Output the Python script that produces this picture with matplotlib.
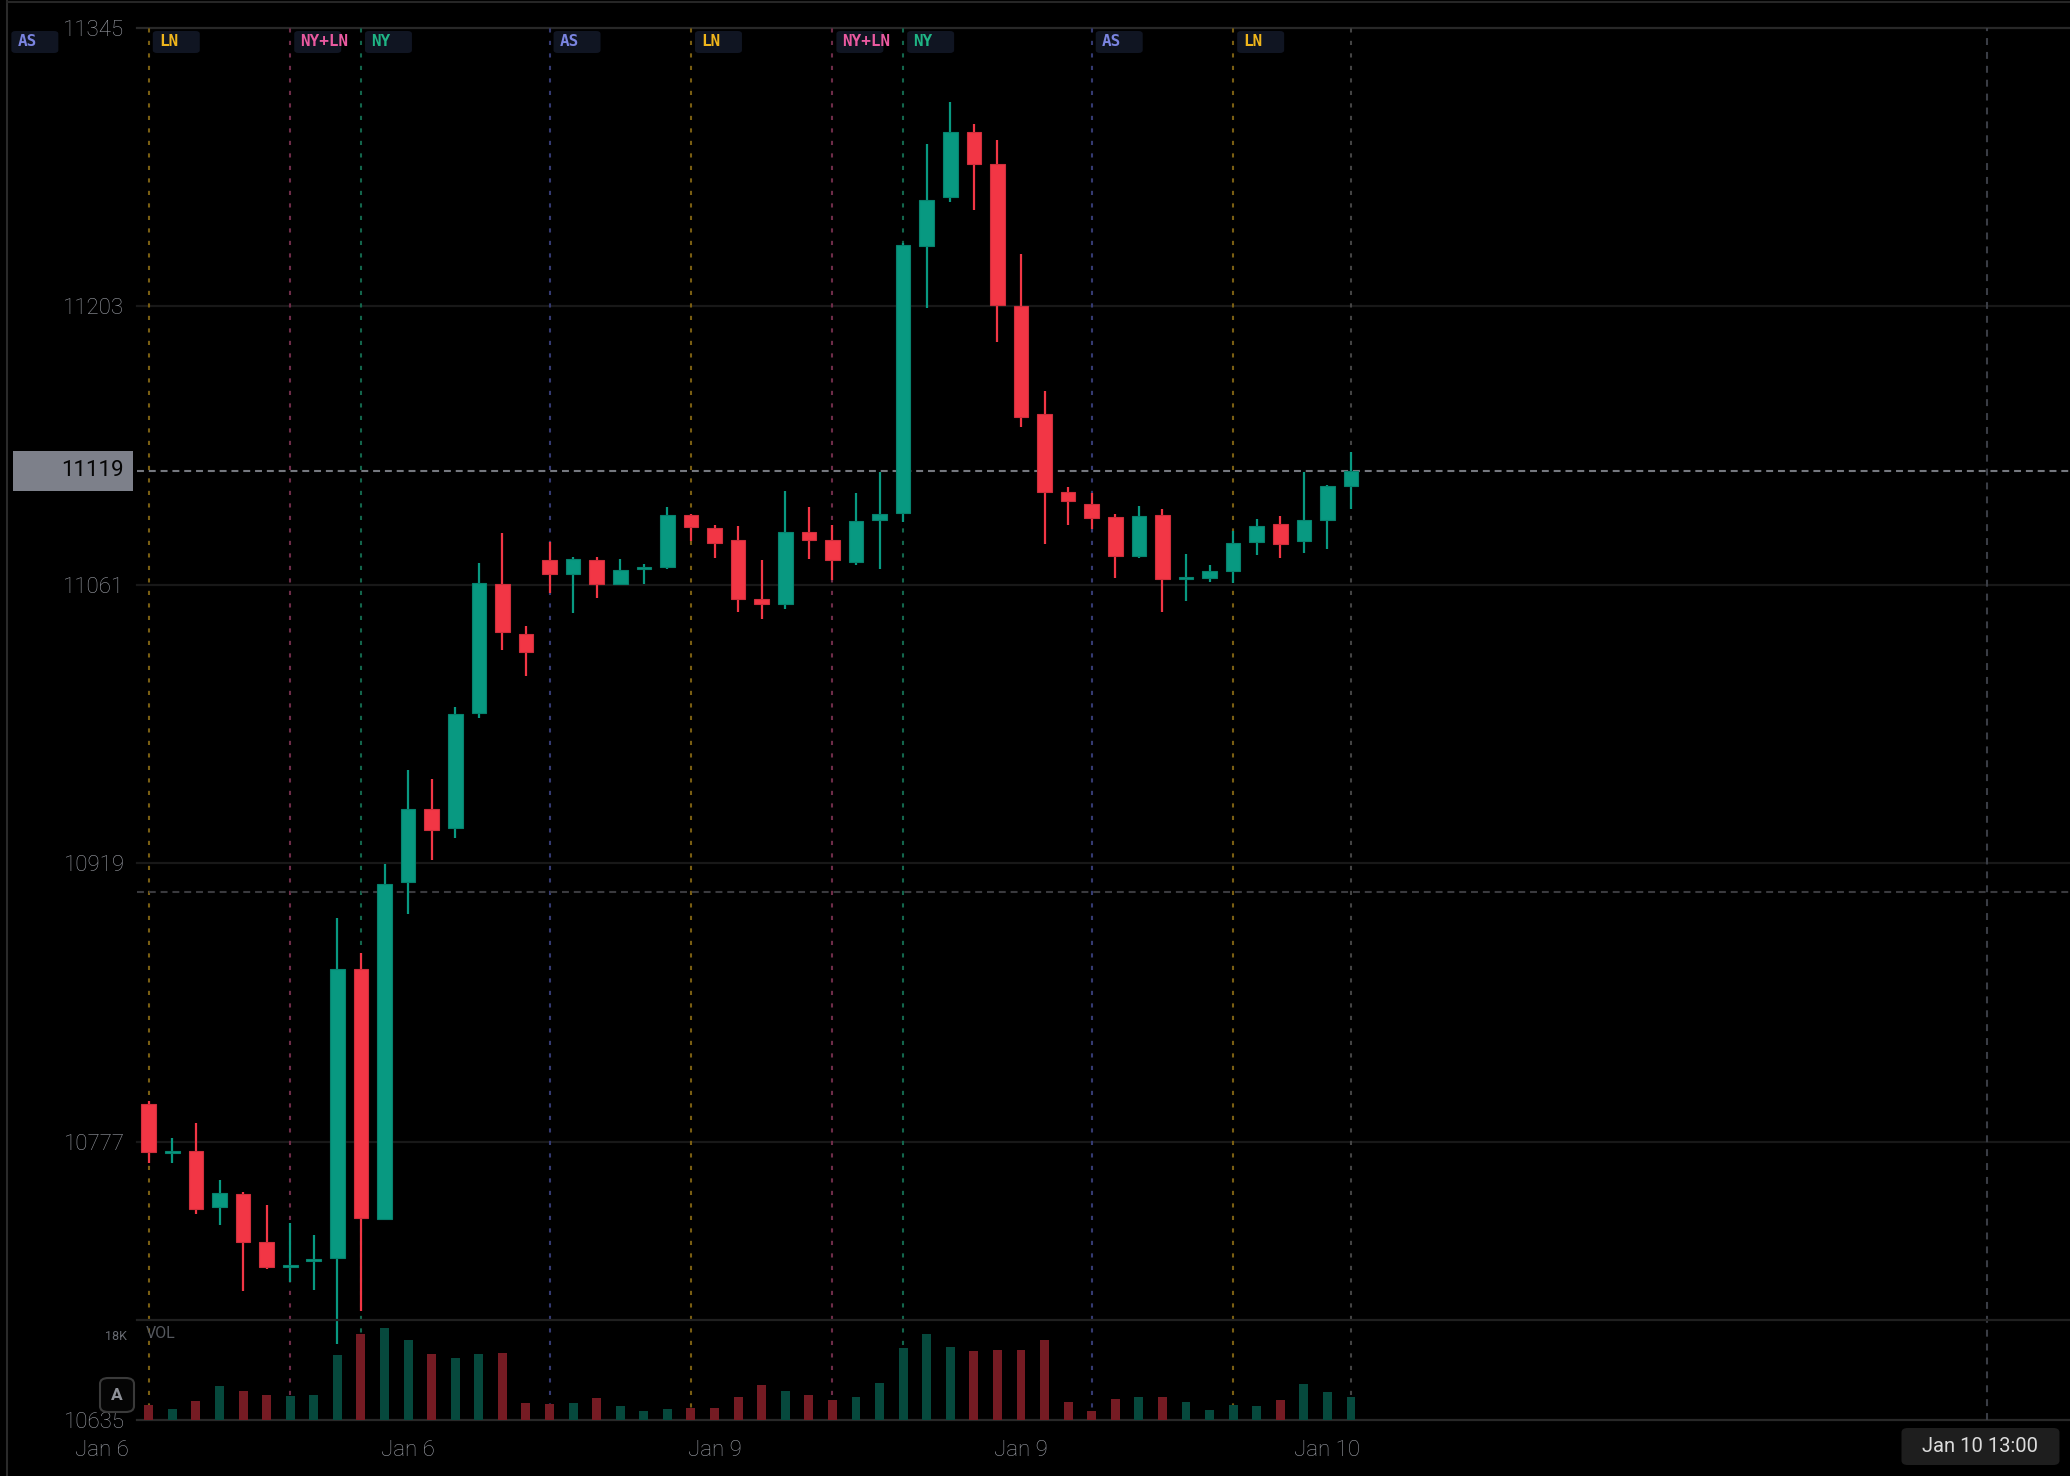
import matplotlib
matplotlib.use('Agg')
import matplotlib.pyplot as plt
from matplotlib.patches import FancyBboxPatch
from matplotlib.lines import Line2D
from matplotlib import transforms

# ---------------- data ----------------
opens = [10796.3, 10771.5, 10772.0, 10743.8, 10750.4, 10725.8, 10713.5, 10716.0, 10717.8, 10865.0,
         10737.5, 10909.3, 10946.9, 10936.7, 10995.4, 11061.6, 11036.0, 11073.8, 11066.5, 11073.6,
         11061.2, 11069.5, 11070.2, 11096.4, 11090.0, 11083.7, 11053.7, 11051.2, 11088.0, 11083.7,
         11072.8, 11093.9, 11097.4, 11234.0, 11258.9, 11292.0, 11275.7, 11203.3, 11147.9, 11108.2,
         11102.0, 11095.4, 11075.8, 11096.4, 11064.2, 11064.6, 11068.0, 11082.8, 11092.1, 11083.5,
         11094.3, 11111.4]
highs = [10797.5, 10779.0, 10786.3, 10757.4, 10751.5, 10744.5, 10735.3, 10729.2, 10891.0, 10873.0,
         10918.6, 10966.5, 10962.0, 10998.7, 11072.3, 11087.6, 11040.0, 11082.7, 11075.2, 11075.2,
         11074.2, 11071.4, 11100.7, 11097.1, 11091.3, 11091.0, 11073.6, 11108.6, 11100.5, 11091.6,
         11107.8, 11118.7, 11235.1, 11286.0, 11307.5, 11296.0, 11288.1, 11229.5, 11159.6, 11110.7,
         11107.6, 11097.2, 11101.2, 11099.5, 11076.6, 11071.0, 11088.6, 11094.6, 11096.1, 11118.4,
         11112.0, 11128.6]
lows = [10766.2, 10766.0, 10740.2, 10734.5, 10701.0, 10712.0, 10705.2, 10701.5, 10673.8, 10690.8,
        10737.0, 10893.0, 10920.8, 10931.7, 10993.0, 11027.7, 11014.3, 11056.6, 11046.8, 11054.4,
        11061.0, 11061.2, 11069.2, 11083.3, 11074.8, 11047.3, 11043.7, 11048.8, 11074.4, 11063.4,
        11071.0, 11069.2, 11093.2, 11202.3, 11256.4, 11252.2, 11185.0, 11141.3, 11081.6, 11091.5,
        11089.5, 11064.6, 11074.8, 11047.0, 11052.5, 11062.6, 11062.1, 11076.2, 11074.8, 11077.4,
        11079.1, 11099.5]
closes = [10771.5, 10772.0, 10742.6, 10750.6, 10726.0, 10713.2, 10714.0, 10716.8, 10865.0, 10737.8,
          10908.4, 10946.6, 10935.9, 10995.2, 11061.7, 11037.1, 11026.9, 11066.5, 11074.0, 11061.4,
          11068.7, 11070.0, 11096.8, 11090.5, 11082.5, 11053.9, 11051.0, 11088.0, 11083.8, 11073.6,
          11093.5, 11097.2, 11234.2, 11257.1, 11292.0, 11275.6, 11203.5, 11146.7, 11108.2, 11103.6,
          11095.2, 11075.8, 11096.2, 11063.9, 11064.8, 11067.9, 11082.5, 11091.1, 11081.9, 11094.2,
          11111.4, 11119.1]
volumes = [3180, 2330, 4020, 7270, 6140, 5370, 5010, 5300, 13770, 18140,
           19490, 16870, 13980, 13060, 13980, 14260, 3600, 3390, 3600, 4590,
           2970, 1980, 2330, 2470, 2540, 4800, 7410, 6140, 5300, 4240,
           4940, 7770, 15180, 18140, 15460, 14540, 14760, 14900, 16870, 3740,
           1910, 4450, 4800, 4940, 3810, 2120, 3250, 2970, 4310, 7700,
           5860, 4800]
price_ticks = [10635, 10777, 10919, 11061, 11203, 11345]
date_tick_pos = [-2, 11, 24, 37, 50]
date_tick_labels = ['Jan 6', 'Jan 6', 'Jan 9', 'Jan 9', 'Jan 10']
session_pos = [-6, 0, 6, 9, 17, 23, 29, 32, 40, 46]
session_names = ['AS', 'LN', 'NY+LN', 'NY', 'AS', 'LN', 'NY+LN', 'NY', 'AS', 'LN']
ref_level = 10904.5
now_pos = 51
cursor_pos = 78
cursor_label = 'Jan 10 13:00'
vol_tick = 18000
vol_tick_label = '18K'

# ---------------- style ----------------
W, H = 2070, 1476
BG = '#000000'
UP, DOWN = '#089981', '#f23645'
UP_EDGE, DOWN_EDGE = '#07826e', '#cf2f3c'
VOL_UP, VOL_DOWN = '#06493d', '#751b23'
TXT = '#9da0a8'
sess_text = {'AS': '#7a84e0', 'LN': '#efb51c', 'NY+LN': '#ea5aa0', 'NY': '#1fb585'}
sess_line = {'AS': '#343a72', 'LN': '#7a5e12', 'NY+LN': '#6e2c48', 'NY': '#13664c'}
plt.rcParams['lines.scale_dashes'] = False
plt.rcParams['font.family'] = ['Roboto', 'DejaVu Sans']
LBL_W = 'light'

fig = plt.figure(figsize=(W / 100, H / 100), dpi=100, facecolor=BG)

def fx(px):
    return px / W

def fy(py):
    return 1 - py / H

AX_L, AX_R, AX_T, AX_B = 137, 2070, 28, 1420
VOL_T = 1320
ax = fig.add_axes([fx(AX_L), fy(AX_B), fx(AX_R - AX_L), (AX_B - AX_T) / H])
ax.set_facecolor(BG)
for s in ax.spines.values():
    s.set_visible(False)
ax.set_xlim(-0.5, 81.5)
ax.set_ylim(price_ticks[0], price_ticks[-1])

# grid
for t in price_ticks:
    col = '#282828' if t in (price_ticks[0], price_ticks[-1]) else '#181818'
    ax.axhline(t, color=col, lw=1.6, zorder=0, clip_on=False)

# session vertical lines
for p, n in zip(session_pos, session_names):
    if p >= -0.5:
        ax.axvline(p, color=sess_line[n], lw=1.5, dashes=(3, 6), zorder=1)
ax.axvline(now_pos, color='#444444', lw=1.5, dashes=(3, 6), zorder=1)
ax.axvline(cursor_pos, color='#3a3d45', lw=1.5, dashes=(5, 5), zorder=1)

# reference dashed lines
last_price = closes[-1]
ax.axhline(last_price, color='#75787f', lw=1.5, dashes=(5, 3.5), zorder=1)
ax.axhline(ref_level, color='#3a3a3e', lw=1.5, dashes=(5, 3.5), zorder=1)

# candles
xs = list(range(len(opens)))
body_b, body_h, cols, ecols = [], [], [], []
for o, c in zip(opens, closes):
    lo, hi = min(o, c), max(o, c)
    h = max(hi - lo, 1.0)
    body_b.append(lo if hi - lo >= 1.0 else (o + c) / 2 - 0.5)
    body_h.append(h)
    up = c >= o
    cols.append(UP if up else DOWN)
    ecols.append(UP_EDGE if up else DOWN_EDGE)
ax.vlines(xs, lows, highs, colors=cols, lw=1.6, zorder=2)
ax.bar(xs, body_h, bottom=body_b, width=0.62, color=cols, edgecolor=ecols, linewidth=0.8, zorder=3)

# y tick labels
ax.set_yticks(price_ticks)
ax.set_yticklabels([str(t) for t in price_ticks], fontweight=LBL_W)
ax.tick_params(axis='y', length=0, pad=9, labelsize=16, labelcolor=TXT)
ax.set_xticks([])

# last price box
ytop = ax.transData.transform((0, last_price))[1] / H
box = FancyBboxPatch((fx(13), ytop - 20 / H), fx(133) - fx(13), 40 / H, boxstyle='square,pad=0',
                     transform=fig.transFigure, facecolor='#7d808a', edgecolor='none', zorder=5)
fig.add_artist(box)
fig.text(fx(124), ytop, f'{last_price:.0f}', ha='right', va='center', fontsize=16,
         fontweight='normal', color='#050505', zorder=6)

# x date labels
bt = transforms.blended_transform_factory(ax.transData, fig.transFigure)
for p, lab in zip(date_tick_pos, date_tick_labels):
    ax.text(p, fy(1451), lab, transform=bt, ha='center', va='center', fontsize=16,
            fontweight=LBL_W, color=TXT, clip_on=False)

# cursor time label
cx = ax.transData.transform((cursor_pos, 0))[0] - 7
cb = FancyBboxPatch((fx(cx - 79), fy(1465)), fx(158), 37 / H,
                    boxstyle='round,pad=0,rounding_size=0.003', transform=fig.transFigure,
                    facecolor='#1e1e1e', edgecolor='none', zorder=5)
fig.add_artist(cb)
fig.text(fx(cx), fy(1446), cursor_label, ha='center', va='center', fontsize=14.5,
         color='#dcdcdc', zorder=6)

# session labels
for p, n in zip(session_pos, session_names):
    px = ax.transData.transform((p, 0))[0] + 4
    lb = FancyBboxPatch((fx(px), fy(53)), fx(47), 22 / H,
                        boxstyle='round,pad=0,rounding_size=0.002', transform=fig.transFigure,
                        facecolor='#101522', edgecolor='none', zorder=5)
    fig.add_artist(lb)
    fig.text(fx(px + 6), fy(42), n, ha='left', va='center', fontsize=11.5, fontweight='bold',
             family='DejaVu Sans Mono', color=sess_text[n], zorder=6)

# volume panel
axv = fig.add_axes([fx(AX_L), fy(AX_B), fx(AX_R - AX_L), (AX_B - VOL_T) / H])
axv.set_facecolor('none')
for s in axv.spines.values():
    s.set_visible(False)
axv.set_xlim(ax.get_xlim())
axv.set_ylim(0, vol_tick * (AX_B - VOL_T) / 85)
vcols = [VOL_UP if c >= o else VOL_DOWN for o, c in zip(opens, closes)]
axv.bar(xs, volumes, width=0.38, color=vcols, edgecolor='none', zorder=2)
axv.axhline(axv.get_ylim()[1], color='#202020', lw=1.6, clip_on=False)
axv.set_xticks([])
axv.set_yticks([vol_tick])
axv.set_yticklabels([vol_tick_label])
axv.tick_params(axis='y', length=0, pad=7, labelsize=9, labelcolor='#686b72')
axv.text(0.0045, 0.87, 'VOL', transform=axv.transAxes, ha='left', va='center', fontsize=11.5,
         fontweight='normal', color='#55585e')

# "A" button
ab = FancyBboxPatch((fx(100), fy(1412)), fx(34), 34 / H,
                    boxstyle='round,pad=0,rounding_size=0.004', transform=fig.transFigure,
                    facecolor='#050505', edgecolor='#3a3a3a', linewidth=1.5, zorder=7)
fig.add_artist(ab)
fig.text(fx(117), fy(1395), 'A', ha='center', va='center', fontsize=12.5, fontweight='bold',
         color='#8e9198', zorder=8)

# frame lines
fig.add_artist(Line2D([fx(7), fx(7)], [0, 1], transform=fig.transFigure, color='#2a2a2a', lw=1.5))
fig.add_artist(Line2D([fx(7), 1], [fy(2), fy(2)], transform=fig.transFigure, color='#262626', lw=1.5))

fig.savefig('out.png', dpi=100, facecolor=BG)
